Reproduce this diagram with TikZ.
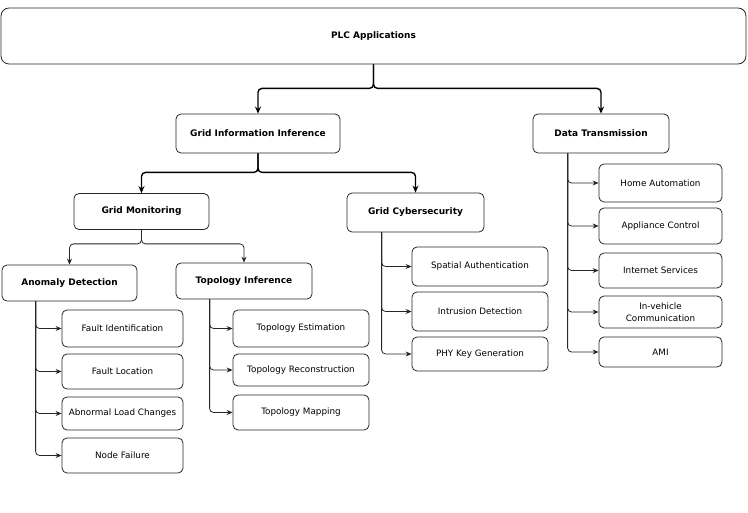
\documentclass[tikz,border=0pt]{standalone}
\usepackage{fontspec}
\setmainfont{DejaVu Sans}
\usetikzlibrary{arrows.meta}
\tikzset{
  box/.style={draw=black!85, line width=0.8pt, rounded corners=5pt, inner sep=0pt, align=center, font=\fontsize{8.8}{12}\selectfont},
  hbox/.style={box, font=\fontsize{9}{11}\selectfont\bfseries},
  bigarrow/.style={draw=black, line width=1.4pt, rounded corners=4pt, -{Stealth[length=7pt,width=6pt]}},
  smallarrow/.style={draw=black!85, line width=0.8pt, rounded corners=4pt, -{Stealth[length=6pt,width=5pt]}}
}
\newcommand{\bx}[6]{\node[#1, minimum width=#4pt, minimum height=#5pt] (#2) at (#3) {#6};}
\begin{document}
\begin{tikzpicture}[x=1pt,y=-1pt]
\useasboundingbox (0,0) rectangle (748,513);
\bx{hbox,rounded corners=8pt}{plc}{373.5,36}{745}{56}{PLC Applications}
\bx{hbox}{gii}{258,133.5}{164}{39}{Grid Information Inference}
\bx{hbox}{dt}{601,133.5}{136}{39}{Data Transmission}
\bx{hbox}{gm}{141.5,211.5}{135}{36}{Grid Monitoring}
\bx{hbox}{gc}{415.5,212.5}{137}{39}{Grid Cybersecurity}
\bx{hbox}{ad}{69.5,283}{135}{36}{Anomaly Detection}
\bx{hbox}{ti}{244,281}{136}{36}{Topology Inference}
% anomaly detection children
\bx{box}{fi}{122.5,328.5}{121}{37}{Fault Identification}
\bx{box}{fl}{122.5,371.5}{121}{35}{Fault Location}
\bx{box}{alc}{122.5,413.5}{121}{33}{Abnormal Load Changes}
\bx{box}{nf}{122.5,455.5}{121}{35}{Node Failure}
% topology inference children
\bx{box}{te}{301,328.5}{136}{37}{Topology Estimation}
\bx{box}{tr}{301,370}{136}{32}{Topology Reconstruction}
\bx{box}{tm}{301,412.5}{136}{35}{Topology Mapping}
% cybersecurity children
\bx{box}{sa}{480,266.5}{136}{39}{Spatial Authentication}
\bx{box}{idn}{480,311.5}{136}{39}{Intrusion Detection}
\bx{box}{pky}{480,354}{136}{34}{PHY Key Generation}
% data transmission children
\bx{box}{ha}{660.5,183}{123}{38}{Home Automation}
\bx{box}{ac}{660.5,226}{123}{36}{Appliance Control}
\bx{box}{is}{660.5,270.5}{123}{35}{Internet Services}
\bx{box}{ivc}{660.5,312}{123}{32}{In-vehicle\\Communication}
\bx{box}{ami}{660.5,352}{123}{30}{AMI}
% main connectors
\draw[bigarrow] (plc.south) -- ++(0,24) -| (gii.north);
\draw[bigarrow] (plc.south) -- ++(0,24) -| (dt.north);
\draw[bigarrow] (gii.south) -- ++(0,19) -| (gm.north);
\draw[bigarrow] (gii.south) -- ++(0,19) -| (gc.north);
\draw[smallarrow] (gm.south) -- ++(0,14) -| (ad.north);
\draw[smallarrow] (gm.south) -- ++(0,14) -| (ti.north);
% leaf connectors
\coordinate (adb) at ([xshift=34pt]ad.south west);
\foreach \c in {fi,fl,alc,nf} \draw[smallarrow] (adb) |- (\c.west);
\coordinate (tib) at ([xshift=34pt]ti.south west);
\foreach \c in {te,tr,tm} \draw[smallarrow] (tib) |- (\c.west);
\coordinate (gcb) at ([xshift=35pt]gc.south west);
\foreach \c in {sa,idn,pky} \draw[smallarrow] (gcb) |- (\c.west);
\coordinate (dtb) at ([xshift=35pt]dt.south west);
\foreach \c in {ha,ac,is,ivc,ami} \draw[smallarrow] (dtb) |- (\c.west);
\end{tikzpicture}
\end{document}
